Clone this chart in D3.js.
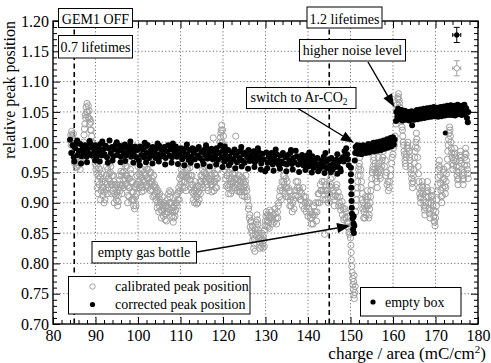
<!DOCTYPE html>
<html><head><meta charset="utf-8">
<script src="https://cdn.jsdelivr.net/npm/d3@7"></script>
<style>
body{margin:0;background:#fff}
svg{display:block}
text{font-family:"Liberation Serif","Times New Roman",serif;fill:#000}
</style>
</head><body>
<svg id="chart" width="491" height="363"></svg>
<script>
// axis ticks
const xTicks = [80, 90, 100, 110, 120, 130, 140, 150, 160, 170, 180];
const yTicks = [0.70, 0.75, 0.80, 0.85, 0.90, 0.95, 1.00, 1.05, 1.10, 1.15, 1.20];
const xMinor = [82,84,86,88,92,94,96,98,102,104,106,108,112,114,116,118,122,124,126,128,132,134,136,138,142,144,146,148,152,154,156,158,162,164,166,168,172,174,176,178];
const yMinor = [0.71,0.72,0.73,0.74,0.76,0.77,0.78,0.79,0.81,0.82,0.83,0.84,0.86,0.87,0.88,0.89,0.91,0.92,0.93,0.94,0.96,0.97,0.98,0.99,1.01,1.02,1.03,1.04,1.06,1.07,1.08,1.09,1.11,1.12,1.13,1.14,1.16,1.17,1.18,1.19];

// lifetime markers (charge / area)
const lifetimeLines = [85, 145];

// calibrated peak position [charge/area, relative peak]
const calibrated = [
[84.2,1.012],[84.4,1.018],[84.6,1.006],[84.8,1.014],[85.0,1.002],[85.2,0.975],[85.4,0.966],[85.7,0.96],[85.9,0.972],[86.2,0.978],[86.5,0.968],[86.8,0.985],[87.1,0.995],[87.3,1.012],[87.5,1.03],[87.6,1.045],[87.8,1.058],[88.0,1.064],[88.1,1.05],[88.3,1.06],[88.4,1.04],[88.6,1.03],[88.8,1.02],[88.9,1.033],[89.1,1.01],[89.3,0.998],[89.5,0.985],[89.7,0.975],[89.9,0.965],[90.1,0.955],
[84.3,0.995],[84.5,1.01],[84.9,0.985],[85.1,0.965],[85.5,0.958],[86.0,0.962],[86.4,0.955],[86.6,0.975],[87.0,0.98],[87.2,1.0],[87.4,1.022],[87.7,1.04],[87.9,1.05],[88.2,1.042],[88.5,1.052],[88.7,1.038],[89.0,1.02],[89.2,1.0],[89.4,0.99],[89.6,0.995],[89.8,0.98],[90.0,0.97],[90.2,0.96],
[90.3,0.948],[90.5,0.935],[90.7,0.958],[90.9,0.93],[91.1,0.942],[91.3,0.92],[91.5,0.935],[91.7,0.912],[91.9,0.925],[92.1,0.918],[92.3,0.935],[92.5,0.945],[92.7,0.93],[92.9,0.955],[93.1,0.94],[93.3,0.965],[93.5,0.95],[93.7,0.93],[93.9,0.945],[94.1,0.92],[94.3,0.935],[94.5,0.915],[94.7,0.925],[94.9,0.905],[95.1,0.918],[95.3,0.902],[95.5,0.925],[95.7,0.938],[95.9,0.93],[96.1,0.945],[96.3,0.928],[96.5,0.938],[96.7,0.952],[96.9,0.94],[97.1,0.96],[97.3,0.975],[97.4,0.945],[97.5,0.928],[97.6,0.912],[97.8,0.925],[98.0,0.94],[98.2,0.955],[98.4,0.935],[98.6,0.918],[98.8,0.905],[99.0,0.895],[99.2,0.89],[99.4,0.91],[99.6,0.93],[99.8,0.945],
[90.4,0.925],[90.6,0.915],[90.8,0.945],[91.0,0.955],[91.2,0.905],[91.4,0.948],[91.6,0.925],[91.8,0.94],[92.0,0.9],[92.2,0.905],[92.4,0.922],[92.6,0.96],[92.8,0.915],[93.0,0.925],[93.2,0.948],[93.4,0.935],[93.6,0.96],[93.8,0.915],[94.0,0.93],[94.2,0.945],[94.4,0.9],[94.6,0.93],[94.8,0.912],[95.0,0.93],[95.2,0.895],[95.4,0.912],[95.6,0.945],[95.8,0.92],[96.0,0.952],[96.2,0.915],[96.4,0.95],[96.6,0.925],[96.8,0.965],[97.0,0.93],[97.2,0.945],[97.45,0.96],[97.55,0.9],[97.7,0.94],[97.9,0.91],[98.1,0.925],[98.3,0.948],[98.5,0.905],[98.7,0.935],[98.9,0.918],[99.1,0.905],[99.3,0.925],[99.5,0.895],[99.7,0.915],[99.9,0.93],
[100.0,0.96],[100.2,0.948],[100.4,0.935],[100.6,0.955],[100.8,0.942],[101.0,0.925],[101.2,0.938],[101.4,0.95],[101.6,0.96],[101.8,0.945],[102.0,0.93],[102.2,0.94],[102.4,0.955],[102.6,0.965],[102.8,0.95],[103.0,0.935],[103.2,0.922],[103.4,0.94],[103.6,0.928],[103.8,0.912],[104.0,0.925],[104.2,0.905],[104.4,0.918],[104.6,0.9],[104.8,0.91],[105.0,0.895],[105.2,0.905],[105.4,0.888],[105.6,0.898],[105.8,0.885],[106.0,0.878],[106.2,0.89],[106.4,0.872],[106.6,0.882],[106.8,0.895],[107.0,0.905],[107.2,0.915],[107.4,0.92],[107.6,0.9],[107.8,0.888],[108.0,0.878],[108.2,0.892],[108.4,0.875],[108.6,0.885],[108.8,0.9],[109.0,0.912],[109.2,0.895],[109.4,0.905],[109.6,0.925],[109.8,0.94],[110.0,0.93],[110.2,0.955],[110.4,0.945],[110.6,0.96],[110.8,0.935],[111.0,0.925],[111.2,0.945],[111.4,0.955],[111.6,0.94],[111.8,0.965],[112.0,0.975],[112.2,0.958],[112.4,0.945],[112.6,0.93],[112.8,0.918],
[100.1,0.935],[100.3,0.925],[100.5,0.945],[100.7,0.93],[100.9,0.918],[101.1,0.955],[101.3,0.92],[101.5,0.935],[101.7,0.945],[101.9,0.928],[102.1,0.955],[102.3,0.925],[102.5,0.94],[102.7,0.932],[102.9,0.92],[103.1,0.95],[103.3,0.935],[103.5,0.91],[103.7,0.945],[103.9,0.93],[104.1,0.915],[104.3,0.925],[104.5,0.892],[104.7,0.92],[104.9,0.885],[105.1,0.915],[105.3,0.9],[105.5,0.875],[105.7,0.91],[105.9,0.895],[106.1,0.9],[106.3,0.882],[106.5,0.895],[106.7,0.87],[106.9,0.885],[107.1,0.89],[107.3,0.9],[107.5,0.91],[107.7,0.918],[107.9,0.9],[108.1,0.885],[108.3,0.868],[108.5,0.895],[108.7,0.878],[108.9,0.888],[109.1,0.9],[109.3,0.915],[109.5,0.918],[109.7,0.905],[109.9,0.92],[110.1,0.945],[110.3,0.935],[110.5,0.925],[110.7,0.945],[110.9,0.95],[111.1,0.935],[111.3,0.92],[111.5,0.942],[111.7,0.955],[111.9,0.945],[112.1,0.965],[112.3,0.938],[112.5,0.925],[112.7,0.945],[112.9,0.93],
[113.0,0.905],[113.2,0.92],[113.4,0.935],[113.6,0.91],[113.8,0.898],[114.0,0.915],[114.2,0.928],[114.4,0.905],[114.6,0.935],[114.8,0.945],[115.0,0.93],[115.2,0.955],[115.4,0.94],[115.6,0.96],[115.8,0.948],[116.0,0.935],[116.2,0.925],[116.4,0.942],[116.6,0.955],[116.8,0.965],[117.0,0.945],[117.2,0.93],[117.4,0.918],[117.7,1.007],[117.8,0.935],[118.0,0.948],[118.2,0.925],[118.4,0.94],[118.6,0.955],[118.8,0.97],[119.0,0.985],[119.3,1.0],[119.5,1.015],[119.7,1.028],[119.9,1.02],[120.1,1.01],[120.3,0.995],[120.5,0.975],[120.7,0.96],[120.9,0.945],[121.1,0.93],[121.3,0.915],[121.5,0.94],[121.7,0.955],[121.9,0.935],[122.1,0.92],[122.3,0.948],[122.5,0.962],[122.7,0.94],[122.9,0.925],[123.0,1.01],[123.2,0.94],[123.4,0.93],[123.6,0.945],[123.8,0.918],[124.0,0.935],[124.2,0.928],[124.4,0.942],[124.6,0.922],[124.8,0.935],[125.0,0.918],[125.2,0.93],[125.4,0.945],[125.6,0.92],
[113.1,0.915],[113.3,0.9],[113.5,0.925],[113.7,0.92],[113.9,0.91],[114.1,0.9],[114.3,0.918],[114.5,0.925],[114.7,0.915],[114.9,0.935],[115.1,0.945],[115.3,0.925],[115.5,0.95],[115.7,0.935],[115.9,0.96],[116.1,0.945],[116.3,0.93],[116.5,0.92],[116.7,0.94],[116.9,0.955],[117.1,0.935],[117.3,0.945],[117.5,0.93],[117.9,0.92],[118.1,0.935],[118.3,0.945],[118.5,0.925],[118.7,0.94],[118.9,0.955],[119.1,0.97],[119.2,0.99],[119.4,1.008],[119.6,1.02],[119.8,1.0],[120.0,0.985],[120.2,0.97],[120.4,0.955],[120.6,0.94],[120.8,0.928],[121.0,0.945],[121.2,0.925],[121.4,0.95],[121.6,0.93],[121.8,0.915],[122.0,0.94],[122.2,0.955],[122.4,0.935],[122.6,0.925],[122.8,0.95],[123.1,0.93],[123.3,0.92],[123.5,0.938],[123.7,0.925],[123.9,0.945],[124.1,0.918],[124.3,0.935],[124.5,0.912],[124.7,0.94],[124.9,0.925],[125.1,0.91],[125.3,0.935],[125.5,0.925],[125.7,0.91],
[125.8,0.905],[126.0,0.89],[126.2,0.875],[126.4,0.86],[126.6,0.87],[126.8,0.85],[127.0,0.838],[127.2,0.825],[127.4,0.84],[127.6,0.855],[127.8,0.868],[128.0,0.88],[128.2,0.865],[128.4,0.85],[128.6,0.835],[128.8,0.845],[129.0,0.828],[129.2,0.84],[129.4,0.825],[129.6,0.838],[129.8,0.855],[130.0,0.87],[130.2,0.885],[130.4,0.87],[130.6,0.86],[130.8,0.875],[131.0,0.888],[131.3,0.875],[131.6,0.865],[131.9,0.88],[132.2,0.89],[132.5,0.875],[132.8,0.885],[133.0,0.895],[133.3,0.91],[133.6,0.925],[133.9,0.935],[134.2,0.945],[134.4,0.93],[134.6,0.915],[134.8,0.94],[135.0,0.925],[135.3,0.91],[135.6,0.92],[135.8,0.905],[136.0,0.895],[136.3,0.885],[136.6,0.905],[136.9,0.92],[137.2,0.935],[137.5,0.925],[137.8,0.91],[138.1,0.92],[138.4,0.905],[138.7,0.895],[139.0,0.91],[139.3,0.9],[139.6,0.885],[139.9,0.9],[140.2,0.89],[140.5,0.875],[140.8,0.865],[141.1,0.88],[141.4,0.895],[141.7,0.885],[142.0,0.87],[142.3,0.9],[142.6,0.915],[142.9,0.93],[143.2,0.92],[143.5,0.905],[143.8,0.935],[143.9,0.848],[144.1,0.92],[144.4,0.905],[144.7,0.915],[145.0,0.928],[145.3,0.94],[145.6,0.925],[145.9,0.91],[146.2,0.895],[146.5,0.912],[146.8,0.93],[147.1,0.918],[147.4,0.9],[147.7,0.888],[148.0,0.902],[148.3,0.89],[148.6,0.875],[148.9,0.885],[149.2,0.868],[149.4,0.878],[149.6,0.86],[149.8,0.848],
[126.1,0.895],[126.3,0.88],[126.5,0.868],[126.7,0.855],[126.9,0.862],[127.1,0.845],[127.3,0.832],[127.5,0.82],[127.7,0.848],[127.9,0.86],[128.1,0.872],[128.3,0.855],[128.5,0.842],[128.7,0.825],[128.9,0.838],[129.1,0.85],[129.3,0.832],[129.5,0.845],[129.7,0.828],[129.9,0.862],[130.1,0.878],[130.3,0.862],[130.5,0.88],[130.7,0.868],[130.9,0.858],[131.1,0.878],[131.4,0.885],[131.7,0.872],[132.0,0.868],[132.3,0.882],[132.6,0.865],[132.9,0.875],[133.1,0.9],[133.4,0.92],[133.7,0.905],[134.0,0.92],[134.3,0.935],[134.5,0.945],[134.7,0.925],[134.9,0.91],[135.1,0.935],[135.4,0.925],[135.7,0.895],[136.1,0.91],[136.4,0.9],[136.7,0.89],[137.0,0.912],[137.3,0.92],[137.6,0.935],[137.9,0.925],[138.2,0.905],[138.5,0.915],[138.8,0.925],[139.1,0.89],[139.4,0.91],[139.7,0.895],[140.0,0.878],[140.3,0.9],[140.6,0.885],[140.9,0.875],[141.2,0.865],[141.5,0.88],[141.8,0.9],[142.1,0.885],[142.4,0.915],[142.7,0.9],[143.0,0.92],[143.3,0.935],[143.6,0.92],[144.0,0.905],[144.2,0.93],[144.5,0.92],[144.8,0.9],[145.1,0.915],[145.4,0.93],[145.7,0.942],[146.0,0.92],[146.3,0.905],[146.6,0.925],[146.9,0.91],[147.2,0.895],[147.5,0.91],[147.8,0.895],[148.1,0.88],[148.4,0.872],[148.7,0.89],[149.0,0.875],[149.3,0.86],[149.5,0.865],[149.7,0.852],
[150.0,0.842],[150.1,0.83],[150.15,0.818],[150.2,0.806],[150.3,0.795],[150.4,0.785],[150.5,0.775],[150.6,0.765],[150.7,0.757],[150.8,0.748],[150.9,0.742],[151.0,0.752],[150.75,0.77],[151.1,0.762],[150.85,0.78],
[151.2,0.885],[151.4,0.905],[151.6,0.925],[151.8,0.945],[152.0,0.96],[152.2,0.975],[152.4,0.955],[152.6,0.935],[152.8,0.915],[153.0,0.9],[153.2,0.885],[153.4,0.875],[153.6,0.89],[153.8,0.905],[154.0,0.92],[154.2,0.895],[154.4,0.88],[154.6,0.9],[154.8,0.92],[155.0,0.94],[155.2,0.955],[155.4,0.97],[155.6,0.985],[155.8,0.965],[156.0,0.95],[156.2,0.935],[156.4,0.96],[156.6,0.975],[156.8,0.955],[157.0,0.94],[157.3,0.96],[157.6,0.975],[157.9,0.99],[158.2,0.97],[158.5,0.95],[158.8,0.935],[159.1,0.925],[159.4,0.945],[159.7,0.965],[160.0,0.98],[160.3,0.995],
[151.3,0.895],[151.5,0.915],[151.7,0.935],[151.9,0.955],[152.1,0.965],[152.3,0.945],[152.5,0.925],[152.7,0.905],[152.9,0.89],[153.1,0.875],[153.3,0.895],[153.5,0.91],[153.7,0.88],[153.9,0.895],[154.1,0.91],[154.3,0.875],[154.5,0.89],[154.7,0.91],[154.9,0.93],[155.1,0.95],[155.3,0.96],[155.5,0.975],[155.7,0.955],[155.9,0.94],[156.1,0.945],[156.3,0.925],[156.5,0.95],[156.7,0.965],[156.9,0.945],[157.1,0.955],[157.4,0.97],[157.7,0.985],[158.0,0.96],[158.3,0.945],[158.6,0.93],[158.9,0.92],[159.2,0.935],[159.5,0.955],[159.8,0.975],[160.1,0.99],[160.5,1.01],
[160.7,1.03],[160.9,1.055],[161.1,1.072],[161.3,1.08],[161.5,1.065],[161.7,1.05],[161.9,1.04],[162.1,1.025],[162.3,1.01],[162.5,0.995],[162.7,0.98],[162.9,0.965],[163.1,0.975],[163.3,0.99],[163.5,1.0],[163.8,0.985],[164.0,0.97],[164.2,0.955],[164.4,0.94],[164.6,0.925],[164.8,0.945],[165.0,0.965],[165.2,0.985],[165.4,1.0],[165.5,1.015],[165.7,0.99],[165.9,0.96],[166.1,0.935],[166.3,0.915],[166.5,0.9],[166.7,0.92],[166.9,0.935],[167.1,0.915],[167.3,0.895],[167.5,0.88],[167.7,0.9],[167.9,0.918],[168.1,0.935],[168.3,0.91],[168.5,0.89],[168.7,0.875],[168.9,0.9],[169.1,0.92],[169.3,0.905],[169.5,0.888],[169.7,0.87],[169.9,0.862],[170.1,0.885],[170.3,0.905],[170.5,0.93],[170.7,0.955],[170.9,0.97],[171.1,0.945],[171.3,0.92],[171.5,0.9],[171.7,0.925],[171.9,0.95],[172.1,0.94],[172.3,0.915],[172.5,0.935],[172.7,0.96],[172.9,0.985],[173.1,1.005],[173.3,1.025],[173.5,1.01],[173.7,0.99],[173.9,0.975],[174.1,0.955],[174.3,0.97],[174.5,0.99],[174.7,0.975],[174.9,0.96],[175.1,0.945],[175.3,0.93],[175.5,0.95],[175.7,0.97],[175.9,0.985],[176.1,0.965],[176.3,0.945],[176.5,0.93],[176.7,0.95],[176.9,0.975],[177.1,0.99],[177.3,0.97],[177.5,0.955],[177.7,0.94],
[161.0,1.062],[161.2,1.075],[161.4,1.07],[161.6,1.058],[161.8,1.045],[162.0,1.035],[162.2,1.02],[162.4,1.0],[162.6,0.985],[162.8,0.97],[163.0,0.96],[163.2,0.98],[163.4,0.995],[163.6,0.99],[163.9,0.975],[164.1,0.96],[164.3,0.948],[164.5,0.932],[164.7,0.935],[164.9,0.955],[165.1,0.975],[165.3,0.992],[165.6,1.005],[165.8,0.975],[166.0,0.948],[166.2,0.925],[166.4,0.908],[166.6,0.91],[166.8,0.928],[167.0,0.925],[167.2,0.905],[167.4,0.888],[167.6,0.892],[167.8,0.91],[168.0,0.925],[168.2,0.92],[168.4,0.9],[168.6,0.882],[168.8,0.888],[169.0,0.91],[169.2,0.912],[169.4,0.895],[169.6,0.878],[169.8,0.868],[170.0,0.875],[170.2,0.895],[170.4,0.918],[170.6,0.942],[170.8,0.962],[171.0,0.958],[171.2,0.932],[171.4,0.91],[171.6,0.912],[171.8,0.938],[172.0,0.955],[172.2,0.928],[172.4,0.925],[172.6,0.948],[172.8,0.972],[173.0,0.995],[173.2,1.015],[173.4,1.02],[173.6,1.0],[173.8,0.982],[174.0,0.965],[174.2,0.962],[174.4,0.98],[174.6,0.982],[174.8,0.968],[175.0,0.952],[175.2,0.938],[175.4,0.94],[175.6,0.96],[175.8,0.978],[176.0,0.975],[176.2,0.955],[176.4,0.938],[176.6,0.94],[176.8,0.962],[177.0,0.982],[177.2,0.98],[177.4,0.962],[177.6,0.948]
];

// corrected peak position [charge/area, relative peak]
const corrected = [
[84.0,1.004],[84.3,0.982],[84.6,0.995],[84.9,0.975],[85.2,0.99],[85.5,0.998],[85.8,0.979],[86.1,0.986],[86.4,0.997],[86.7,0.977],[87.0,0.99],[87.3,0.983],[87.6,0.995],[87.9,0.976],[88.2,0.989],[88.5,0.981],[88.8,0.998],[89.1,0.978],[89.4,0.991],[89.7,0.984],
[90.0,0.995],[90.3,0.976],[90.6,0.99],[90.9,0.983],[91.2,0.997],[91.5,0.978],[91.8,0.988],[92.1,0.98],[92.4,0.994],[92.7,0.975],[93.0,0.99],[93.3,1.003],[93.6,0.982],[93.9,0.992],[94.2,0.977],[94.5,0.988],[94.8,0.996],[95.1,0.979],[95.4,0.986],[95.7,0.994],[96.0,0.976],[96.3,0.989],[96.6,0.982],[96.9,0.996],[97.2,0.978],[97.5,0.99],[97.8,0.984],[98.1,0.995],[98.4,0.976],[98.7,0.988],[99.0,0.981],[99.3,0.993],[99.6,0.975],[99.9,0.987],
[100.2,0.97],[100.5,0.993],[100.8,0.979],[101.1,0.988],[101.4,0.975],[101.7,0.992],[102.0,0.982],[102.3,0.995],[102.6,0.974],[102.9,0.986],[103.2,0.978],[103.5,0.992],[103.8,0.984],[104.1,0.974],[104.4,0.99],[104.7,0.98],[105.0,0.994],[105.3,0.976],[105.6,0.987],[105.9,0.979],[106.2,0.992],[106.5,0.974],[106.8,0.985],[107.1,0.995],[107.4,0.978],[107.7,0.988],[108.0,0.975],[108.3,0.99],[108.6,0.982],[108.9,0.993],[109.2,0.976],[109.5,0.986],[109.8,0.979],
[110.1,0.99],[110.4,0.972],[110.7,0.985],[111.0,0.977],[111.3,0.991],[111.6,0.98],[111.9,0.971],[112.2,0.987],[112.5,0.976],[112.8,0.99],[113.1,0.982],[113.4,0.972],[113.7,0.988],[114.0,0.978],[114.3,0.992],[114.6,0.974],[114.9,0.984],[115.2,0.97],[115.5,0.987],[115.8,0.979],[116.1,0.991],[116.4,0.973],[116.7,0.983],[117.0,0.976],[117.3,0.989],[117.6,0.972],[117.9,0.984],[118.2,0.978],[118.5,0.99],[118.8,0.971],[119.1,0.982],[119.4,0.995],[119.7,0.975],
[120.0,0.986],[120.3,0.968],[120.6,0.98],[120.9,0.972],[121.2,0.987],[121.5,0.976],[121.8,0.966],[122.1,0.983],[122.4,0.972],[122.7,0.988],[123.0,0.978],[123.3,0.967],[123.6,0.984],[123.9,0.974],[124.2,0.986],[124.5,0.97],[124.8,0.98],[125.1,0.966],[125.4,0.983],[125.7,0.975],[126.0,0.987],[126.3,0.969],[126.6,0.979],[126.9,0.972],[127.2,0.985],[127.5,0.967],[127.8,0.978],[128.1,0.971],[128.4,0.984],[128.7,0.974],[129.0,0.965],[129.3,0.981],[129.6,0.972],[129.9,0.952],
[130.2,0.983],[130.5,0.966],[130.8,0.976],[131.1,0.969],[131.4,0.982],[131.7,0.963],[132.0,0.974],[132.3,0.967],[132.6,0.98],[132.9,0.97],[133.2,0.962],[133.5,0.978],[133.8,0.968],[134.1,0.982],[134.4,0.965],[134.7,0.975],[135.0,0.963],[135.3,0.979],[135.6,0.97],[135.9,0.983],[136.2,0.964],[136.5,0.974],[136.8,0.967],[137.1,0.986],[137.4,0.977],[137.7,0.963],[138.0,0.973],[138.3,0.966],[138.6,0.979],[138.9,0.962],[139.2,0.972],[139.5,0.965],[139.8,0.978],
[140.1,0.96],[140.4,0.972],[140.7,0.964],[141.0,0.977],[141.3,0.958],[141.6,0.969],[141.9,0.961],[142.2,0.974],[142.5,0.963],[142.8,0.956],[143.1,0.97],[143.4,0.962],[143.7,0.976],[144.0,0.959],[144.3,0.968],[144.6,0.957],[144.9,0.972],[145.2,0.962],[145.5,0.974],[145.8,0.955],[146.1,0.966],[146.4,0.959],[146.7,0.971],[147.0,0.96],[147.3,0.968],[147.6,0.956],[147.9,0.972],
[85.0,0.968],[86.6,0.965],[88.0,0.967],[89.9,0.97],[91.0,0.968],[92.9,0.966],[94.0,0.97],[95.9,0.967],[97.0,0.969],[98.9,0.966],[100.4,0.962],[101.9,0.967],[103.4,0.965],[104.9,0.968],[106.4,0.963],[107.9,0.966],[109.4,0.964],[110.9,0.962],[112.4,0.966],[113.9,0.961],[115.4,0.964],[116.9,0.96],[118.4,0.963],[119.9,0.959],[121.4,0.962],[122.9,0.957],[124.4,0.96],[125.9,0.956],[127.4,0.959],[128.9,0.955],[130.4,0.957],[131.9,0.953],[133.4,0.956],[134.9,0.952],[136.4,0.955],[137.9,0.951],[139.4,0.954],[140.9,0.95],[142.4,0.952],[143.9,0.949],[145.4,0.951],[146.9,0.948],[147.7,0.952],
[85.7,1.003],[88.6,1.002],[91.6,1.001],[95.0,1.0],[98.2,1.001],[101.6,0.999],[104.6,0.998],[108.2,0.998],[111.5,0.996],[116.0,0.995],[120.4,0.993],[124.3,0.992],[128.2,0.99],[132.4,0.988],[136.0,0.987],[140.3,0.983],[144.1,0.982],[146.9,0.98],
[148.2,0.975],[148.4,0.968],[148.6,0.985],[148.8,0.978],[149.0,0.99],[149.2,0.98],[149.4,0.972],[149.6,0.962],
[150.1,0.958],[150.1,0.947],[150.15,0.936],[150.2,0.925],[150.2,0.914],[150.25,0.903],[150.3,0.892],[150.35,0.882],[150.5,0.874],[150.7,0.866],[150.6,0.856],[150.8,0.85],[150.9,0.862],[150.75,0.878],
[151.0,0.97],[151.1,0.982],[151.2,0.992],[151.4,0.985],[151.6,0.995],[151.8,0.981],[152.0,0.99],[152.2,0.984],[152.4,0.994],[152.6,0.98],[152.8,0.989],[153.0,0.995],[153.2,0.983],[153.4,0.991],[153.6,0.982],[153.8,0.994],[154.0,0.986],[154.2,0.997],[154.4,0.983],[154.6,0.991],[154.8,0.985],[155.0,0.996],[155.2,0.988],[155.4,0.999],[155.6,0.985],[155.8,0.994],[156.0,0.989],[156.2,1.0],[156.4,0.986],[156.6,0.995],[156.8,0.99],[157.0,1.001],[157.2,0.987],[157.4,0.996],[157.6,0.991],[157.8,1.003],[158.0,0.989],[158.2,0.998],[158.4,0.992],[158.6,1.005],[158.8,0.991],[159.0,1.0],[159.2,0.994],[159.4,1.007],[159.6,0.993],[159.8,1.002],[160.0,1.008],[160.2,0.996],[160.4,1.004],
[160.7,1.035],[160.8,1.05],[161.0,1.042],[161.2,1.055],[161.4,1.038],[161.6,1.048],[161.8,1.041],[162.0,1.053],[162.2,1.036],[162.4,1.046],[162.6,1.04],[162.8,1.052],[163.0,1.037],[163.2,1.045],[163.4,1.039],[163.6,1.05],[163.8,1.036],[164.0,1.044],[164.2,1.038],[164.4,1.051],[164.5,1.028],[164.6,1.04],[164.8,1.046],[165.0,1.037],[165.2,1.049],[165.4,1.041],[165.6,1.053],[165.8,1.038],[166.0,1.047],[166.2,1.042],[166.4,1.054],[166.6,1.039],[166.8,1.048],[167.0,1.043],[167.2,1.055],[167.4,1.04],[167.6,1.049],[167.8,1.044],[168.0,1.056],[168.2,1.041],[168.4,1.05],[168.6,1.044],[168.8,1.057],[169.0,1.042],[169.2,1.051],[169.4,1.045],[169.6,1.058],[169.8,1.043],[170.0,1.052],[170.2,1.046],[170.4,1.057],[170.6,1.042],[170.8,1.05],[171.0,1.045],[171.2,1.058],[171.4,1.043],[171.6,1.052],[171.8,1.046],[172.0,1.059],[172.2,1.044],[172.4,1.053],[172.6,1.047],[172.8,1.06],[173.0,1.045],[173.2,1.054],[173.4,1.048],[173.6,1.061],[173.8,1.045],[174.0,1.055],[174.2,1.048],[174.4,1.06],[174.6,1.044],[174.8,1.053],[175.0,1.047],[175.2,1.062],[175.4,1.046],[175.6,1.055],[175.8,1.049],[176.0,1.06],[176.2,1.045],[176.4,1.054],[176.6,1.047],[176.8,1.062],[177.0,1.046],[177.2,1.056],[177.4,1.04],[177.6,1.033],[177.7,1.05]
];

// measurement with the empty gas box
const emptyBox = [[172.3, 1.015]];

// typical uncertainty markers: [x, y, half width in x, half height in y, series]
const errorBars = [
  [175.0, 1.177, 0.95, 0.0125, "corrected"],
  [175.0, 1.122, 0.95, 0.0125, "calibrated"]
];

const M = {left: 53, right: 478, top: 21, bottom: 324};
const GRAY = "#a0a0a0";
const R_OPEN = 3.1, R_FILL = 3.0;

const svg = d3.select("#chart");
const x = d3.scaleLinear().domain([80, 180]).range([M.left, M.right]);
const y = d3.scaleLinear().domain([0.70, 1.20]).range([M.bottom, M.top]);

// dotted grid
const grid = svg.append("g").attr("stroke", "#666").attr("stroke-width", 0.9).attr("stroke-dasharray", "1.2,2.2");
grid.selectAll(".gx").data(xTicks.slice(1, -1)).join("line")
  .attr("x1", d => x(d)).attr("x2", d => x(d)).attr("y1", M.top).attr("y2", M.bottom);
grid.selectAll(".gy").data(yTicks.slice(1, -1)).join("line")
  .attr("y1", d => y(d)).attr("y2", d => y(d)).attr("x1", M.left).attr("x2", M.right);

// lifetime boundaries
svg.append("g").selectAll("line").data(lifetimeLines).join("line")
  .attr("x1", d => x(d)).attr("x2", d => x(d))
  .attr("y1", M.top).attr("y2", M.bottom)
  .attr("stroke", "#000").attr("stroke-width", 1.6).attr("stroke-dasharray", "5,3.5");

// calibrated (open grey circles)
svg.append("g").selectAll("circle").data(calibrated).join("circle")
  .attr("cx", d => x(d[0])).attr("cy", d => y(d[1])).attr("r", R_OPEN)
  .attr("fill", "none").attr("stroke", GRAY).attr("stroke-width", 1);

// corrected (filled black)
svg.append("g").selectAll("circle").data(corrected).join("circle")
  .attr("cx", d => x(d[0])).attr("cy", d => y(d[1])).attr("r", R_FILL)
  .attr("fill", "#000");

svg.append("g").selectAll("circle").data(emptyBox).join("circle")
  .attr("cx", d => x(d[0])).attr("cy", d => y(d[1])).attr("r", 2.5)
  .attr("fill", "#000");

// uncertainty markers
svg.append("g").selectAll("g").data(errorBars).join("g").each(function(d) {
  const g = d3.select(this);
  const col = d[4] === "corrected" ? "#000" : GRAY;
  const cx = x(d[0]), cy = y(d[1]);
  const x0 = x(d[0] - d[2]), x1 = x(d[0] + d[2]);
  const y0 = y(d[1] - d[3]), y1 = y(d[1] + d[3]);
  const seg = (a, b, c, e) => g.append("line").attr("x1", a).attr("y1", b).attr("x2", c).attr("y2", e).attr("stroke", col);
  seg(cx, y0, cx, y1);
  seg(cx - 3, y0, cx + 3, y0);
  seg(cx - 3, y1, cx + 3, y1);
  seg(x0, cy, x1, cy);
  seg(x0, cy - 2, x0, cy + 2);
  seg(x1, cy - 2, x1, cy + 2);
  if (d[4] === "corrected") {
    g.append("circle").attr("cx", cx).attr("cy", cy).attr("r", 2.6).attr("fill", "#000");
  } else {
    g.append("circle").attr("cx", cx).attr("cy", cy).attr("r", 2.7).attr("fill", "#fff").attr("stroke", col);
  }
});

// axes: ticks point inwards on all four sides
function styleAxis(g) {
  g.select(".domain").remove();
  g.selectAll(".tick line").attr("stroke", "#000").attr("stroke-width", 1);
  g.selectAll("text").style("font-family", '"Liberation Serif","Times New Roman",serif').style("font-size", "16px").attr("fill", "#000");
}
svg.append("g").attr("transform", `translate(0,${M.bottom})`)
  .call(d3.axisBottom(x).tickValues(xTicks).tickSize(-7).tickSizeOuter(0).tickPadding(5.5).tickFormat(d3.format("d"))).call(styleAxis);
svg.append("g").attr("transform", `translate(0,${M.bottom})`)
  .call(d3.axisBottom(x).tickValues(xMinor).tickSize(-4).tickSizeOuter(0).tickFormat("")).call(styleAxis);
svg.append("g").attr("transform", `translate(${M.left},0)`)
  .call(d3.axisLeft(y).tickValues(yTicks).tickSize(-7).tickSizeOuter(0).tickPadding(4).tickFormat(d3.format(".2f"))).call(styleAxis);
svg.append("g").attr("transform", `translate(${M.left},0)`)
  .call(d3.axisLeft(y).tickValues(yMinor).tickSize(-4).tickSizeOuter(0).tickFormat("")).call(styleAxis);
svg.append("g").attr("transform", `translate(0,${M.top})`)
  .call(d3.axisTop(x).tickValues(xTicks).tickSize(-7).tickSizeOuter(0).tickFormat("")).call(styleAxis);
svg.append("g").attr("transform", `translate(0,${M.top})`)
  .call(d3.axisTop(x).tickValues(xMinor).tickSize(-4).tickSizeOuter(0).tickFormat("")).call(styleAxis);
svg.append("g").attr("transform", `translate(${M.right},0)`)
  .call(d3.axisRight(y).tickValues(yTicks).tickSize(-7).tickSizeOuter(0).tickFormat("")).call(styleAxis);
svg.append("g").attr("transform", `translate(${M.right},0)`)
  .call(d3.axisRight(y).tickValues(yMinor).tickSize(-4).tickSizeOuter(0).tickFormat("")).call(styleAxis);

// frame
svg.append("rect").attr("x", M.left).attr("y", M.top)
  .attr("width", M.right - M.left).attr("height", M.bottom - M.top)
  .attr("fill", "none").attr("stroke", "#000").attr("stroke-width", 1.4);

// axis titles
svg.append("text").attr("transform", `translate(15,${M.top}) rotate(-90)`)
  .attr("text-anchor", "end").style("font-size", "16px").text("relative peak position");
const xt = svg.append("text").attr("x", 486).attr("y", 358.5).attr("text-anchor", "end").style("font-size", "17px");
xt.append("tspan").text("charge / area (mC/cm");
xt.append("tspan").attr("dy", -6).style("font-size", "11px").text("2");
xt.append("tspan").attr("dy", 6).text(")");

// annotation boxes
function box(x0, y0, w, h) {
  svg.append("rect").attr("x", x0).attr("y", y0).attr("width", w).attr("height", h)
    .attr("fill", "#fff").attr("stroke", "#000").attr("stroke-width", 1);
}
function label(str, cx, by) {
  return svg.append("text").attr("x", cx).attr("y", by).attr("text-anchor", "middle").style("font-size", "14px").text(str);
}
function arrow(sx, sy, tx, ty) {
  const a = Math.atan2(ty - sy, tx - sx), L = 13, hw = 5;
  const bx = tx - L * Math.cos(a), by = ty - L * Math.sin(a);
  svg.append("line").attr("x1", sx).attr("y1", sy).attr("x2", bx).attr("y2", by)
    .attr("stroke", "#000").attr("stroke-width", 1.4);
  svg.append("path").attr("d", d3.line()([
    [tx, ty],
    [bx + hw * Math.sin(a), by - hw * Math.cos(a)],
    [bx - hw * Math.sin(a), by + hw * Math.cos(a)]
  ]) + "Z").attr("fill", "#000");
}

box(58.5, 8.5, 74, 19); label("GEM1 OFF", 95.5, 24);
box(58.5, 35.5, 74, 22.5); label("0.7 lifetimes", 95.5, 52);
box(307, 7, 75, 21); label("1.2 lifetimes", 344.5, 24);

arrow(368, 62, x(160.3), y(1.058));
box(299.5, 39.5, 106, 21.5); label("higher noise level", 352.5, 55);

arrow(298, 108.5, x(150.8), y(0.999));
box(246.5, 87.5, 109.5, 21);
const sw = label("switch to Ar-CO", 299, 102);
sw.append("tspan").attr("dy", 3).style("font-size", "9.5px").text("2");

arrow(197, 252, x(149.9), y(0.862));
box(92, 241.5, 104.5, 21.5); label("empty gas bottle", 144, 256.5);

// legends
box(68.5, 276.5, 181.5, 37.5);
svg.append("circle").attr("cx", 92.5).attr("cy", 286.5).attr("r", 2.7).attr("fill", "none").attr("stroke", GRAY);
svg.append("text").attr("x", 115).attr("y", 291).style("font-size", "14px").text("calibrated peak position");
svg.append("circle").attr("cx", 92.5).attr("cy", 304.5).attr("r", 2.6).attr("fill", "#000");
svg.append("text").attr("x", 115).attr("y", 309).style("font-size", "14px").text("corrected peak position");

box(360.5, 287.5, 100.5, 28.5);
svg.append("circle").attr("cx", 373).attr("cy", 302).attr("r", 2.6).attr("fill", "#000");
svg.append("text").attr("x", 385).attr("y", 306.5).style("font-size", "14px").text("empty box");
</script>
</body></html>
